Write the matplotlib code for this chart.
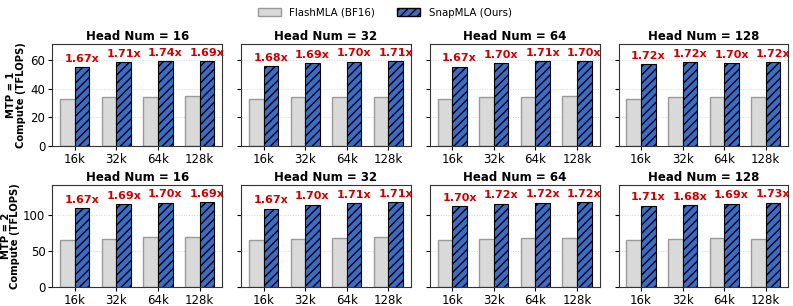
import numpy as np
import matplotlib.pyplot as plt
from matplotlib.patches import Patch

# data
seq_lens = ["16k", "32k", "64k", "128k"]
head_nums = [16, 32, 64, 128]

flash_mtp1 = [
    [33.0, 34.0, 34.0, 35.0],
    [33.0, 34.0, 34.5, 34.5],
    [33.0, 34.0, 34.5, 34.8],
    [33.0, 34.0, 34.0, 34.0],
]
snap_mtp1 = [
    [55.0, 58.2, 59.1, 59.1],
    [55.4, 57.5, 58.6, 59.0],
    [55.1, 57.8, 59.0, 59.2],
    [56.8, 58.5, 57.8, 58.5],
]
speedup_mtp1 = [
    ["1.67x", "1.71x", "1.74x", "1.69x"],
    ["1.68x", "1.69x", "1.70x", "1.71x"],
    ["1.67x", "1.70x", "1.71x", "1.70x"],
    ["1.72x", "1.72x", "1.70x", "1.72x"],
]

flash_mtp2 = [
    [65.0, 67.5, 69.0, 69.3],
    [65.0, 67.0, 68.0, 69.0],
    [66.0, 67.5, 68.0, 68.5],
    [66.0, 67.5, 68.5, 67.5],
]
snap_mtp2 = [
    [109.3, 115.3, 117.2, 117.7],
    [109.0, 114.5, 116.5, 118.0],
    [112.5, 116.0, 117.0, 118.0],
    [113.0, 113.5, 116.0, 117.0],
]
speedup_mtp2 = [
    ["1.67x", "1.69x", "1.70x", "1.69x"],
    ["1.67x", "1.70x", "1.71x", "1.71x"],
    ["1.70x", "1.72x", "1.72x", "1.72x"],
    ["1.71x", "1.68x", "1.69x", "1.73x"],
]

rows = [
    ("MTP = 1", flash_mtp1, snap_mtp1, speedup_mtp1, 71, [0, 20, 40, 60]),
    ("MTP = 2", flash_mtp2, snap_mtp2, speedup_mtp2, 142, [0, 50, 100]),
]

GRAY = "#d9d9d9"
GRAY_EDGE = "#9a9a9a"
BLUE = "#3b6cc8"
RED = "#cc0000"

fig, axes = plt.subplots(2, 4, figsize=(7.93, 3.06), dpi=100)
fig.subplots_adjust(left=0.066, right=0.994, top=0.856, bottom=0.062,
                    wspace=0.112, hspace=0.38)

x = np.arange(len(seq_lens))
w = 0.35

for r, (mtp, flash, snap, spd, ymax, yticks) in enumerate(rows):
    for c, hn in enumerate(head_nums):
        ax = axes[r, c]
        ax.bar(x - w / 2, flash[c], w, color=GRAY, edgecolor=GRAY_EDGE,
               linewidth=1, zorder=2)
        ax.bar(x + w / 2, snap[c], w, color=BLUE, edgecolor="black",
               hatch="////", linewidth=0.8, zorder=2)
        for i in range(len(seq_lens)):
            ax.annotate(spd[c][i], (x[i] + w / 2, snap[c][i]),
                        xytext=(0, 2.5), textcoords="offset points",
                        ha="center", va="bottom", color=RED,
                        fontsize=8, fontweight="bold")
        ax.set_xlim(-0.54, 3.54)
        ax.set_ylim(0, ymax)
        ax.set_yticks(yticks)
        ax.set_xticks(x)
        ax.set_xticklabels(seq_lens, fontsize=8.5)
        ax.tick_params(axis="both", length=3, pad=2)
        ax.tick_params(axis="y", labelsize=8.5)
        ax.grid(axis="y", linestyle=":", color="#d5d5d5", linewidth=0.7,
                zorder=0)
        ax.set_title(f"Head Num = {hn}", fontsize=8.5, fontweight="bold",
                     pad=3)
        for s in ax.spines.values():
            s.set_color("#333333")
        if c == 0:
            ax.set_ylabel(f"{mtp}\nCompute (TFLOPS)", fontsize=7.2,
                          fontweight="bold",
                          linespacing=1.1 if r == 0 else 0.95,
                          labelpad=3 if r == 0 else 2)
        else:
            ax.set_yticklabels([])

handles = [
    Patch(facecolor=GRAY, edgecolor=GRAY_EDGE, label="FlashMLA (BF16)"),
    Patch(facecolor=BLUE, edgecolor="black", hatch="////",
          label="SnapMLA (Ours)"),
]
fig.legend(handles=handles, loc="upper center", ncol=2, frameon=False,
           fontsize=7.4, bbox_to_anchor=(0.485, 1.005), columnspacing=2.1,
           handlelength=2.3, handleheight=0.9)

fig.savefig("out.png", dpi=100)
